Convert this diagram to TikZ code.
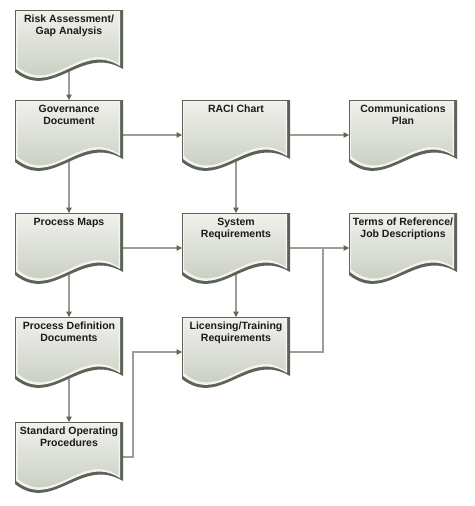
\documentclass[tikz,border=0pt]{standalone}
\usepackage{fontspec}
\setmainfont{Liberation Sans}
\usetikzlibrary{arrows.meta}
\pgfdeclarelayer{background}
\pgfsetlayers{background,main}
\definecolor{edgedark}{HTML}{5C6356}
\definecolor{edgelight}{HTML}{F3F4F0}
\definecolor{filltop}{HTML}{EEF0EA}
\definecolor{fillbot}{HTML}{BFC5B8}
\definecolor{conncol}{HTML}{9B9E95}
\definecolor{arrowcol}{HTML}{5F684F}
\definecolor{txtcol}{HTML}{1A1A1A}
\tikzset{
  docframe/.style={draw=none, fill=none, inner sep=0pt, outer sep=0pt,
    minimum width=108pt, minimum height=70pt},
  doctext/.style={anchor=north, inner sep=0pt, align=center, text=txtcol,
    font=\bfseries\fontsize{10.5}{12.5}\selectfont},
  conn/.style={draw=conncol, line width=1.1pt},
  arr/.style={conn, -{Triangle[length=5.5pt,width=5.5pt,color=arrowcol]}},
}
% path of the document shape with insets: left, top, right, bottom
\newcommand{\wavepath}[4]{(#1,#2) -- (108-#3,#2) -- (108-#3,59-#4)
  .. controls (66,34-#4) and (38,92-#4) .. (#1,62-#4) -- cycle}
% name, left x, top y, text
\newcommand{\docshape}[4]{%
  \node[docframe] (#1) at (#2+54,#3+35) {};
  \begin{scope}[shift={(#2,#3)}]
    \fill[edgedark] \wavepath{0}{0}{0}{0};
    \fill[edgelight] \wavepath{1}{1}{3}{3};
    \shade[top color=filltop, bottom color=fillbot] \wavepath{2.5}{2.5}{4.5}{5.5};
    \node[doctext] (#1-t) at (54,4.6) {#4};
  \end{scope}}
\begin{document}
\begin{tikzpicture}[x=1pt,y=-1pt]
\useasboundingbox (0,0) rectangle (474,506);
\docshape{risk}{15}{10}{Risk Assessment/\\Gap Analysis}
\docshape{gov}{15}{100}{Governance\\Document}
\docshape{raci}{182}{100}{RACI Chart}
\docshape{comm}{349}{100}{Communications\\Plan}
\docshape{pm}{15}{213}{Process Maps}
\docshape{sys}{182}{213}{System\\Requirements}
\docshape{terms}{349}{213}{Terms of Reference/\\Job Descriptions}
\docshape{pdd}{15}{317}{Process Definition\\Documents}
\docshape{lic}{182}{317}{Licensing/Training\\Requirements}
\docshape{sop}{15}{422}{Standard Operating\\Procedures}
\coordinate (j1) at (323,248);
\coordinate (j2) at (133,457);
\begin{pgfonlayer}{background}
\fill[white] (0,0) rectangle (474,506);
\draw[arr] (risk.center) -- (gov.north);
\draw[arr] (gov.center) -- (pm.north);
\draw[arr] (pm.center) -- (pdd.north);
\draw[arr] (pdd.center) -- (sop.north);
\draw[arr] (raci.center) -- (sys.north);
\draw[arr] (sys.center) -- (lic.north);
\draw[arr] (gov.east) -- (raci.west);
\draw[arr] (raci.east) -- (comm.west);
\draw[arr] (pm.east) -- (sys.west);
\draw[arr] (sys.east) -- (terms.west);
\draw[conn] (lic.east) -| (j1);
\draw[arr] (sop.east) -- (j2) |- (lic.west);
\end{pgfonlayer}
\end{tikzpicture}
\end{document}
